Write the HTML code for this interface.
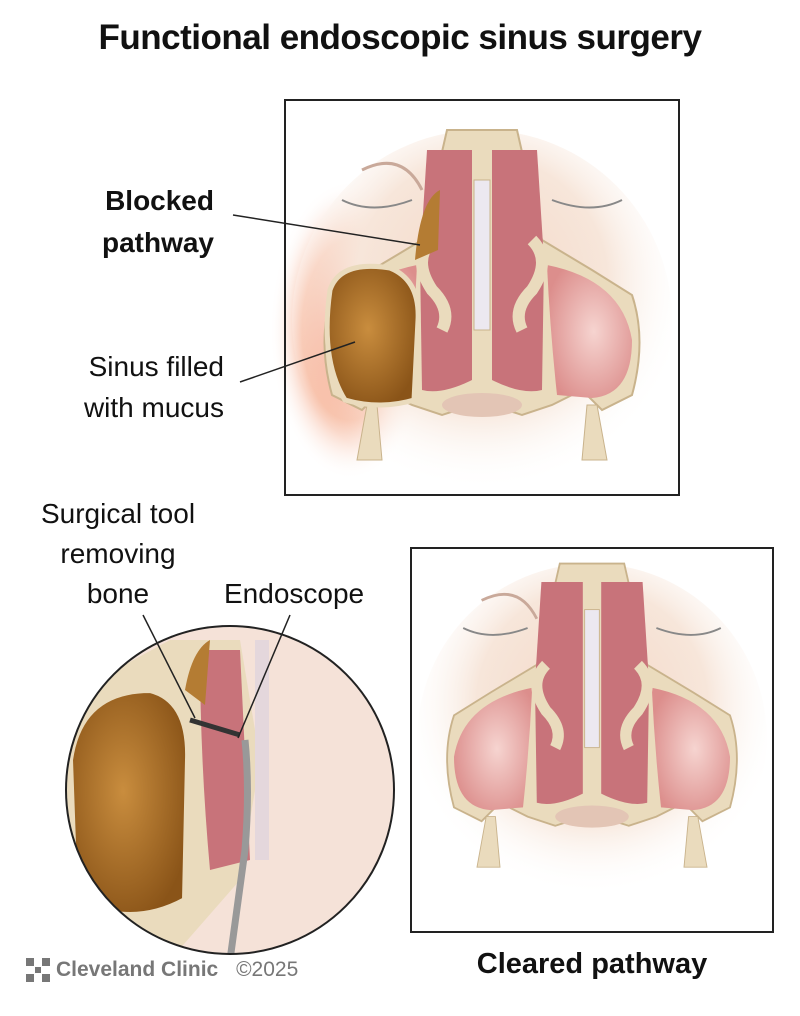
<!DOCTYPE html>
<html><head><meta charset="utf-8"><style>
body{margin:0;background:#fff;width:800px;height:1016px;overflow:hidden;font-family:"Liberation Sans",sans-serif}
.t{position:absolute;color:#111;white-space:nowrap}
</style></head><body>
<div class="t" style="left:0;width:800px;top:18px;text-align:center;font-size:35px;font-weight:bold;letter-spacing:-0.5px">Functional endoscopic sinus surgery</div>
<div class="t" style="right:586px;top:180px;font-size:28px;font-weight:bold;text-align:right;line-height:42px">Blocked<br>pathway</div>
<div class="t" style="right:576px;top:346px;font-size:28px;text-align:right;line-height:41px">Sinus filled<br>with mucus</div>
<div class="t" style="left:16px;width:204px;top:494px;font-size:28px;text-align:center;line-height:40px">Surgical tool<br>removing<br>bone</div>
<div class="t" style="left:224px;top:578px;font-size:28px">Endoscope</div>
<div class="t" style="left:410px;width:364px;top:948px;font-size:29px;font-weight:bold;text-align:center">Cleared pathway</div>
<div class="t" style="left:56px;top:958px;font-size:21px;font-weight:bold;color:#777">Cleveland Clinic <span style="font-weight:normal;margin-left:12px">©2025</span></div>
<svg width="800" height="1016" style="position:absolute;left:0;top:0">
<defs>
<radialGradient id="skin" cx="50%" cy="40%" r="55%"><stop offset="0" stop-color="#f3d7c6"/><stop offset="0.6" stop-color="#f7e6da"/><stop offset="1" stop-color="#fff" stop-opacity="0"/></radialGradient>
<radialGradient id="red" cx="50%" cy="50%" r="50%"><stop offset="0" stop-color="#ee6a45"/><stop offset="0.6" stop-color="#f4a07c" stop-opacity="0.7"/><stop offset="1" stop-color="#fff" stop-opacity="0"/></radialGradient>
<radialGradient id="pink" cx="55%" cy="50%" r="60%"><stop offset="0" stop-color="#f6d4d0"/><stop offset="1" stop-color="#dc8e8c"/></radialGradient>
<radialGradient id="mucus" cx="45%" cy="45%" r="60%"><stop offset="0" stop-color="#c98d3e"/><stop offset="1" stop-color="#8a5418"/></radialGradient>
<g id="anat">
<ellipse cx="0" cy="20" rx="190" ry="190" fill="url(#skin)"/>
<path d="M-60,-110 q-20,-40 -60,-20" stroke="#c9a99a" stroke-width="3" fill="none"/>
<path d="M-70,-100 q-40,15 -70,0" stroke="#888" stroke-width="2" fill="none"/>
<path d="M70,-100 q40,15 70,0" stroke="#888" stroke-width="2" fill="none"/>
<path d="M-35,-170 L35,-170 L60,-60 L110,-30 L150,-5 Q165,40 150,95 L120,110 L100,90 L70,105 L40,115 Q0,100 -40,115 L-70,105 L-100,90 L-120,110 L-150,95 Q-165,40 -150,-5 L-110,-30 L-60,-60 Z" fill="#eadbbd" stroke="#c9b38c" stroke-width="2"/>
<path d="M-65,-35 Q-140,-20 -150,40 Q-150,95 -110,98 L-75,95 Q-68,30 -65,-35Z" fill="url(#pink)"/>
<path d="M65,-35 Q140,-20 150,40 Q150,95 110,98 L75,95 Q68,30 65,-35Z" fill="url(#pink)"/>
<path d="M-55,-150 L-10,-150 L-10,80 Q-40,95 -60,90 L-62,-40Z" fill="#c8737a"/>
<path d="M55,-150 L10,-150 L10,80 Q40,95 60,90 L62,-40Z" fill="#c8737a"/>
<path d="M-50,-60 q-20,20 0,50 q20,20 10,40" stroke="#eadbbd" stroke-width="12" fill="none"/>
<path d="M50,-60 q20,20 0,50 q-20,20 -10,40" stroke="#eadbbd" stroke-width="12" fill="none"/>
<rect x="-8" y="-120" width="16" height="150" fill="#ece8f0" stroke="#c9b38c"/>
<path d="M-115,105 l-10,55 l25,0 l-5,-55Z M115,105 l10,55 l-25,0 l5,-55Z" fill="#eadbbd" stroke="#c9b38c"/>
<ellipse cx="0" cy="105" rx="40" ry="12" fill="#e3c5b5"/>
</g>
</defs>
<g fill="#777"><rect x="26" y="958" width="24" height="24"/><rect x="34" y="958" width="8" height="24" fill="#fff"/><rect x="26" y="966" width="24" height="8" fill="#fff"/><rect x="35" y="967" width="6" height="6"/></g>
<ellipse cx="350" cy="330" rx="80" ry="150" fill="url(#red)"/>
<use href="#anat" transform="translate(482,300)"/>
<path d="M330,290 Q340,260 390,268 Q420,280 418,320 L414,400 Q380,410 345,400 Q320,360 330,290Z" fill="url(#mucus)" stroke="#eadbbd" stroke-width="5"/>
<path d="M415,260 Q420,200 440,190 L438,250Z" fill="#b47c33"/>
<rect x="285" y="100" width="394" height="395" fill="none" stroke="#222" stroke-width="2"/>
<path d="M233,215 L420,245" stroke="#222" stroke-width="1.5"/>
<path d="M240,382 L355,342" stroke="#222" stroke-width="1.5"/>
<use href="#anat" transform="translate(592,720) scale(0.92)"/>
<rect x="411" y="548" width="362" height="384" fill="none" stroke="#222" stroke-width="2"/>
<clipPath id="cc"><circle cx="230" cy="790" r="164"/></clipPath>
<g clip-path="url(#cc)">
<rect x="60" y="620" width="340" height="340" fill="#f5e2d8"/>
<path d="M170,640 L240,640 L260,760 L240,880 L170,960 L60,960 L60,700Z" fill="#eadbbd"/>
<path d="M200,650 L240,650 L250,860 L210,870 Q200,760 200,650Z" fill="#c8737a"/>
<path d="M70,760 Q80,690 150,690 Q190,700 188,760 L185,900 Q130,930 75,900 Z" fill="url(#mucus)" stroke="#eadbbd" stroke-width="6"/>
<path d="M185,690 Q192,650 210,640 L205,705Z" fill="#b47c33"/>
<rect x="255" y="640" width="14" height="220" fill="#e4d7dc"/>
<path d="M245,740 Q250,790 245,850 L230,960" stroke="#999" stroke-width="7" fill="none"/>
<path d="M190,720 L240,735" stroke="#333" stroke-width="5"/>
</g>
<circle cx="230" cy="790" r="164" fill="none" stroke="#222" stroke-width="2"/>
<path d="M143,615 L195,718" stroke="#222" stroke-width="1.5"/>
<path d="M290,615 L238,738" stroke="#222" stroke-width="1.5"/>
</svg>
</body></html>
